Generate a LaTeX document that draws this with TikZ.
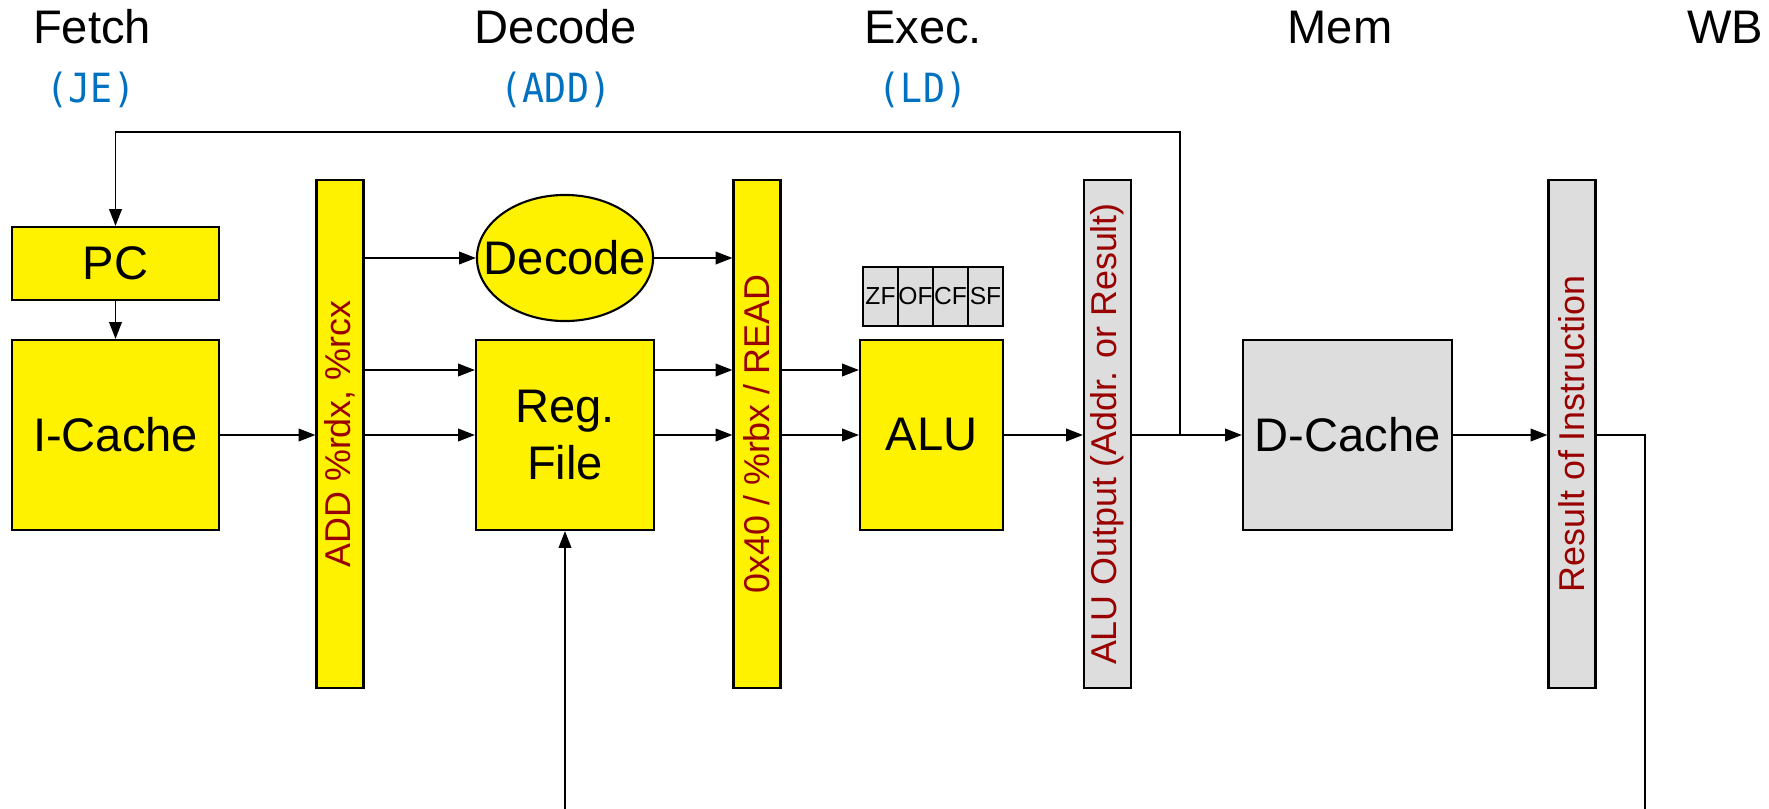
\documentclass[tikz,border=0pt]{standalone}
\usepackage{fontspec}
\setmainfont{Liberation Sans}
\newfontfamily\monofont{DejaVu Sans Mono}
\usetikzlibrary{arrows.meta,shapes.geometric}
\definecolor{latchred}{HTML}{990000}
\definecolor{stageblue}{HTML}{0070C0}
\definecolor{boxgray}{HTML}{DDDDDD}
\tikzset{
  unit/.style={draw,line width=0.6pt,fill=yellow,inner sep=0pt,font=\fontsize{13.4pt}{16.2pt}\selectfont},
  latch/.style={draw,line width=0.6pt,fill=yellow,minimum width=0.47cm,minimum height=5.07cm,inner sep=0pt},
  latchtext/.style={rotate=90,text=latchred,inner sep=0pt,font=\fontsize{10.2pt}{12pt}\selectfont},
  stage/.style={anchor=base,font=\fontsize{13.4pt}{16pt}\selectfont},
  instr/.style={anchor=base,text=stageblue,font=\monofont\fontsize{10.4pt}{12pt}\selectfont},
  flag/.style={draw,line width=0.5pt,fill=boxgray,minimum width=0.35cm,minimum height=0.59cm,inner sep=0pt,font=\fontsize{7pt}{8pt}\selectfont}
}
\begin{document}
\begin{tikzpicture}[x=0.01cm,y=-0.01cm,>={Triangle[length=4.8pt,width=3.6pt]},line width=0.5pt]
\useasboundingbox (0,0) rectangle (1769,809);
\node[stage] (fetch) at (92,43) {Fetch};
\node[stage] (decodehd) at (556,43) {Decode};
\node[stage] (exechd) at (923,43) {Exec.};
\node[stage] (memhd) at (1340,43) {Mem};
\node[stage] (wbhd) at (1725,43) {WB};
\node[instr] (je) at (91,102) {\scalebox{1}[1.1]{(JE)}};
\node[instr] (add) at (556,102) {\scalebox{1}[1.1]{(ADD)}};
\node[instr] (ld) at (923,102) {\scalebox{1}[1.1]{(LD)}};
\node[unit,minimum width=2.07cm,minimum height=0.73cm] (pc) at (115.5,263.5) {PC};
\node[unit,minimum width=2.07cm,minimum height=1.90cm] (icache) at (115.5,435) {I-Cache};
\node[latch] (latchA) at (340,434) {};
\node[latchtext] at (latchA) {ADD \%rdx, \%rcx};
\node[unit,ellipse,minimum width=1.76cm,minimum height=1.26cm] (decode) at (565,258) {};
\node[unit,fill=none,draw=none] at (decode) {Decode};
\node[unit,minimum width=1.78cm,minimum height=1.90cm,align=center] (regfile) at (565,435) {Reg.\\File};
\node[latch] (latchB) at (757,434) {};
\node[latchtext] at (latchB) {0x40 / \%rbx / READ};
\node[unit,minimum width=1.43cm,minimum height=1.90cm] (alu) at (931.5,435) {ALU};
\foreach \f [count=\i] in {ZF,OF,CF,SF}
  \node[flag] (flag\i) at (845.5+35*\i,296.5) {\f};
\node[latch,fill=boxgray] (latchC) at (1107.5,434) {};
\node[latchtext] at (latchC) {ALU Output (Addr. or Result)};
\node[unit,fill=boxgray,minimum width=2.09cm,minimum height=1.90cm] (dcache) at (1347.5,435) {D-Cache};
\node[latch,fill=boxgray] (latchD) at (1572,434) {};
\node[latchtext] at (latchD) {Result of Instruction};
\coordinate (branch) at (1180,435);
\coordinate (rfin) at (565,809);
\coordinate (wbout) at (1645,809);
\draw[->] (pc) -- (icache);
\draw[->] (icache) -- (icache -| latchA.west);
\draw[->] (latchA.east |- decode) -- (decode.west);
\draw[->] (decode.east) -- (decode -| latchB.west);
\draw[->] (latchA.east |- 0,370) -- (regfile.west |- 0,370);
\draw[->] (latchA.east |- regfile) -- (regfile.west);
\draw[->] (regfile.east |- 0,370) -- (latchB.west |- 0,370);
\draw[->] (regfile.east) -- (regfile -| latchB.west);
\draw[->] (latchB.east |- 0,370) -- (alu.west |- 0,370);
\draw[->] (latchB.east |- alu) -- (alu.west);
\draw[->] (alu.east) -- (alu -| latchC.west);
\draw[->] (latchC.east |- dcache) -- (dcache.west);
\draw[->] (branch) -- (1180,132) -| (pc.north);
\draw[->] (dcache.east) -- (dcache -| latchD.west);
\draw (latchD.east |- dcache) -| (wbout);
\draw[->] (rfin) -- (regfile.south);
\end{tikzpicture}
\end{document}
